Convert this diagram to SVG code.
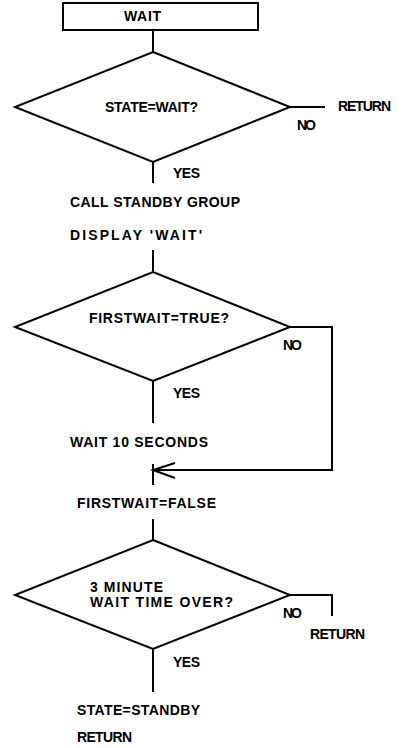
<svg xmlns="http://www.w3.org/2000/svg" width="402" height="748" viewBox="0 0 402 748">
<style>
.s{fill:none;stroke:#000;stroke-width:2;stroke-linejoin:miter}
.t{font-family:"Liberation Sans",Arial,sans-serif;font-weight:bold;font-size:14px;fill:#000}
</style>
<rect width="402" height="748" fill="#fff"/>
<g id="start">
<rect class="s" x="63" y="3" width="195" height="27"/>
<text class="t" x="124" y="21" textLength="37">WAIT</text>
</g>
<g id="d1">
<polygon class="s" points="153,52 290,107 153,162 15,107"/>
<text class="t" x="105" y="112" textLength="93">STATE=WAIT?</text>
</g>
<g id="ret1"><text class="t" x="338" y="111" textLength="53">RETURN</text></g>
<g id="p1">
<text class="t" x="70" y="207" textLength="170">CALL STANDBY GROUP</text>
<text class="t" x="70" y="240" textLength="132">DISPLAY 'WAIT'</text>
</g>
<g id="d2">
<polygon class="s" points="153,272 290,327 153,381 15,327"/>
<text class="t" x="89" y="323" textLength="140">FIRSTWAIT=TRUE?</text>
</g>
<g id="p2"><text class="t" x="70" y="447" textLength="138">WAIT 10 SECONDS</text></g>
<g id="p3"><text class="t" x="77" y="508" textLength="139">FIRSTWAIT=FALSE</text></g>
<g id="d3">
<polygon class="s" points="153,540 290,595 153,649 15,595"/>
<text class="t" x="90" y="592" textLength="73">3 MINUTE</text>
<text class="t" x="90" y="607" textLength="143">WAIT TIME OVER?</text>
</g>
<g id="ret2"><text class="t" x="310" y="639" textLength="55">RETURN</text></g>
<g id="p4">
<text class="t" x="77" y="715" textLength="123">STATE=STANDBY</text>
<text class="t" x="77" y="742" textLength="55">RETURN</text>
</g>
<g id="connectors">
<line class="s" x1="153" y1="30" x2="153" y2="52"/>
<line class="s" x1="290" y1="107" x2="325" y2="107"/>
<text class="t" x="297" y="130" textLength="19">NO</text>
<line class="s" x1="153" y1="162" x2="153" y2="183"/>
<text class="t" x="173" y="178" textLength="27">YES</text>
<line class="s" x1="153" y1="250" x2="153" y2="272"/>
<line class="s" x1="153" y1="381" x2="153" y2="423"/>
<text class="t" x="173" y="398" textLength="27">YES</text>
<polyline class="s" points="290,327 332,327 332,470 153,470"/>
<text class="t" x="283" y="350" textLength="19">NO</text>
<line class="s" x1="153" y1="464" x2="153" y2="485"/>
<polyline class="s" points="175,463 153,470 175,478"/>
<line class="s" x1="153" y1="519" x2="153" y2="540"/>
<line class="s" x1="153" y1="649" x2="153" y2="692"/>
<text class="t" x="173" y="667" textLength="27">YES</text>
<polyline class="s" points="290,595 332,595 332,616"/>
<text class="t" x="283" y="618" textLength="19">NO</text>
</g>
</svg>
